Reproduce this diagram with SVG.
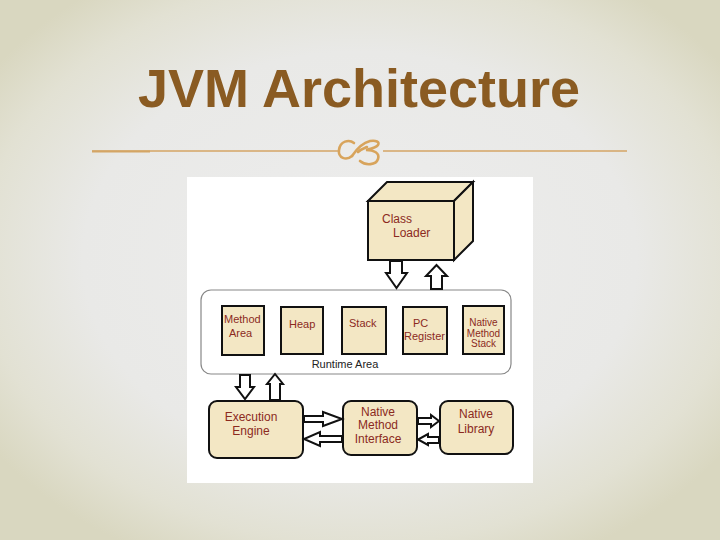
<svg xmlns="http://www.w3.org/2000/svg" width="720" height="540" viewBox="0 0 720 540">
<defs>
<radialGradient id="bg" cx="50%" cy="48%" r="62%">
<stop offset="0" stop-color="#ededed"/>
<stop offset="0.62" stop-color="#e9e9e7"/>
<stop offset="0.85" stop-color="#e2e1d3"/>
<stop offset="1" stop-color="#d9d7c0"/>
</radialGradient>
<style>
.box{fill:#f3e7c4;stroke:#111;stroke-width:2}
.arr{fill:#fff;stroke:#111;stroke-width:2;stroke-linejoin:miter}
.t{font-family:"Liberation Sans",Arial,sans-serif;font-size:11px;fill:#8b2a1e}
.ts{font-family:"Liberation Sans",Arial,sans-serif;font-size:10px;fill:#8b2a1e}
.tb{font-family:"Liberation Sans",Arial,sans-serif;font-size:12px;fill:#8b2a1e}
.orn{fill:none;stroke:#d8a45c;stroke-width:2.6;stroke-linecap:round}
</style>
</defs>
<rect width="720" height="540" fill="url(#bg)"/>
<text x="138" y="107" font-family="'Liberation Sans',Arial,sans-serif" font-weight="bold" font-size="53" fill="#8a5b22" textLength="442" lengthAdjust="spacingAndGlyphs">JVM Architecture</text>
<g id="divider">
<line x1="92" y1="151" x2="338" y2="151" stroke="#d4a565" stroke-width="1.6"/>
<line x1="92" y1="151.6" x2="150" y2="151.6" stroke="#d4a565" stroke-width="2"/>
<line x1="383" y1="151" x2="627" y2="151" stroke="#d4a565" stroke-width="1.6"/>
<path class="orn" d="M354 143 C349 139 340 141 339 150 C338 158 346 161 352 156"/>
<path class="orn" d="M352 156 C356 150 362 143 370 141 C376 140 380 142 378 145 C376 148 370 149 366 150 C374 150 380 153 378 159 C376 165 366 166 360 161"/>
<path class="orn" d="M358 152 C361 149 365 148 367 147" stroke-width="2"/>
</g>
<rect x="187" y="177" width="346" height="306" fill="#ffffff"/>
<g id="class-loader">
<polygon class="box" points="368,201 387,182 473,182 454,201"/>
<polygon class="box" points="454,201 473,182 473,241 454,260"/>
<rect class="box" x="368" y="201" width="86" height="59"/>
<text class="tb" x="382" y="223">Class</text>
<text class="tb" x="393" y="237">Loader</text>
</g>
<g id="runtime-area">
<rect x="201" y="290" width="310" height="84" rx="10" fill="#fff" stroke="#888" stroke-width="1.2"/>
<text x="345" y="368" text-anchor="middle" font-family="'Liberation Sans',Arial,sans-serif" font-size="11" fill="#222">Runtime Area</text>
</g>
<g id="method-area">
<rect class="box" x="222" y="306" width="42" height="49"/>
<text class="t" x="224" y="323">Method</text>
<text class="t" x="229" y="337">Area</text>
</g>
<g id="heap">
<rect class="box" x="281" y="307" width="42" height="47"/>
<text class="t" x="289" y="328">Heap</text>
</g>
<g id="stack">
<rect class="box" x="342" y="307" width="44" height="47"/>
<text class="t" x="349" y="327">Stack</text>
</g>
<g id="pc-register">
<rect class="box" x="403" y="307" width="44" height="47"/>
<text class="t" x="413" y="327">PC</text>
<text class="t" x="404" y="340">Register</text>
</g>
<g id="native-method-stack">
<rect class="box" x="463" y="306" width="41" height="48"/>
<text class="ts" x="483.5" y="326" text-anchor="middle">Native</text>
<text class="ts" x="483.5" y="336.5" text-anchor="middle">Method</text>
<text class="ts" x="483.5" y="347" text-anchor="middle">Stack</text>
</g>
<g id="execution-engine">
<rect class="box" x="209" y="401" width="94" height="57" rx="8"/>
<text class="tb" x="251" y="421" text-anchor="middle">Execution</text>
<text class="tb" x="251" y="435" text-anchor="middle">Engine</text>
</g>
<g id="native-method-interface">
<rect class="box" x="343" y="401" width="74" height="54" rx="8"/>
<text class="tb" x="378" y="416" text-anchor="middle">Native</text>
<text class="tb" x="378" y="429" text-anchor="middle">Method</text>
<text class="tb" x="378" y="443" text-anchor="middle">Interface</text>
</g>
<g id="native-library">
<rect class="box" x="440" y="401" width="73" height="53" rx="8"/>
<text class="tb" x="476" y="418" text-anchor="middle">Native</text>
<text class="tb" x="476" y="433" text-anchor="middle">Library</text>
</g>
<g id="connectors">
<polygon class="arr" points="390,261 402,261 402,273 407,273 396.5,288 386,273 390,273"/>
<polygon class="arr" points="431,289 442,289 442,276 447,276 436.5,265 426,276 431,276"/>
<polygon class="arr" points="240,375 250,375 250,387 254,387 245,399 236,387 240,387"/>
<polygon class="arr" points="270,400 280,400 280,384 283,384 275,374 267,384 270,384"/>
<polygon class="arr" points="304,416 323,416 323,412 342,419 323,426 323,422 304,422"/>
<polygon class="arr" points="342,436 320,436 320,432 304,439 320,446 320,442 342,442"/>
<polygon class="arr" points="418,418 431,418 431,415 439,421 431,427 431,424 418,424"/>
<polygon class="arr" points="439,437 428,437 428,434 418,439.5 428,445 428,443 439,443"/>
</g>
</svg>
